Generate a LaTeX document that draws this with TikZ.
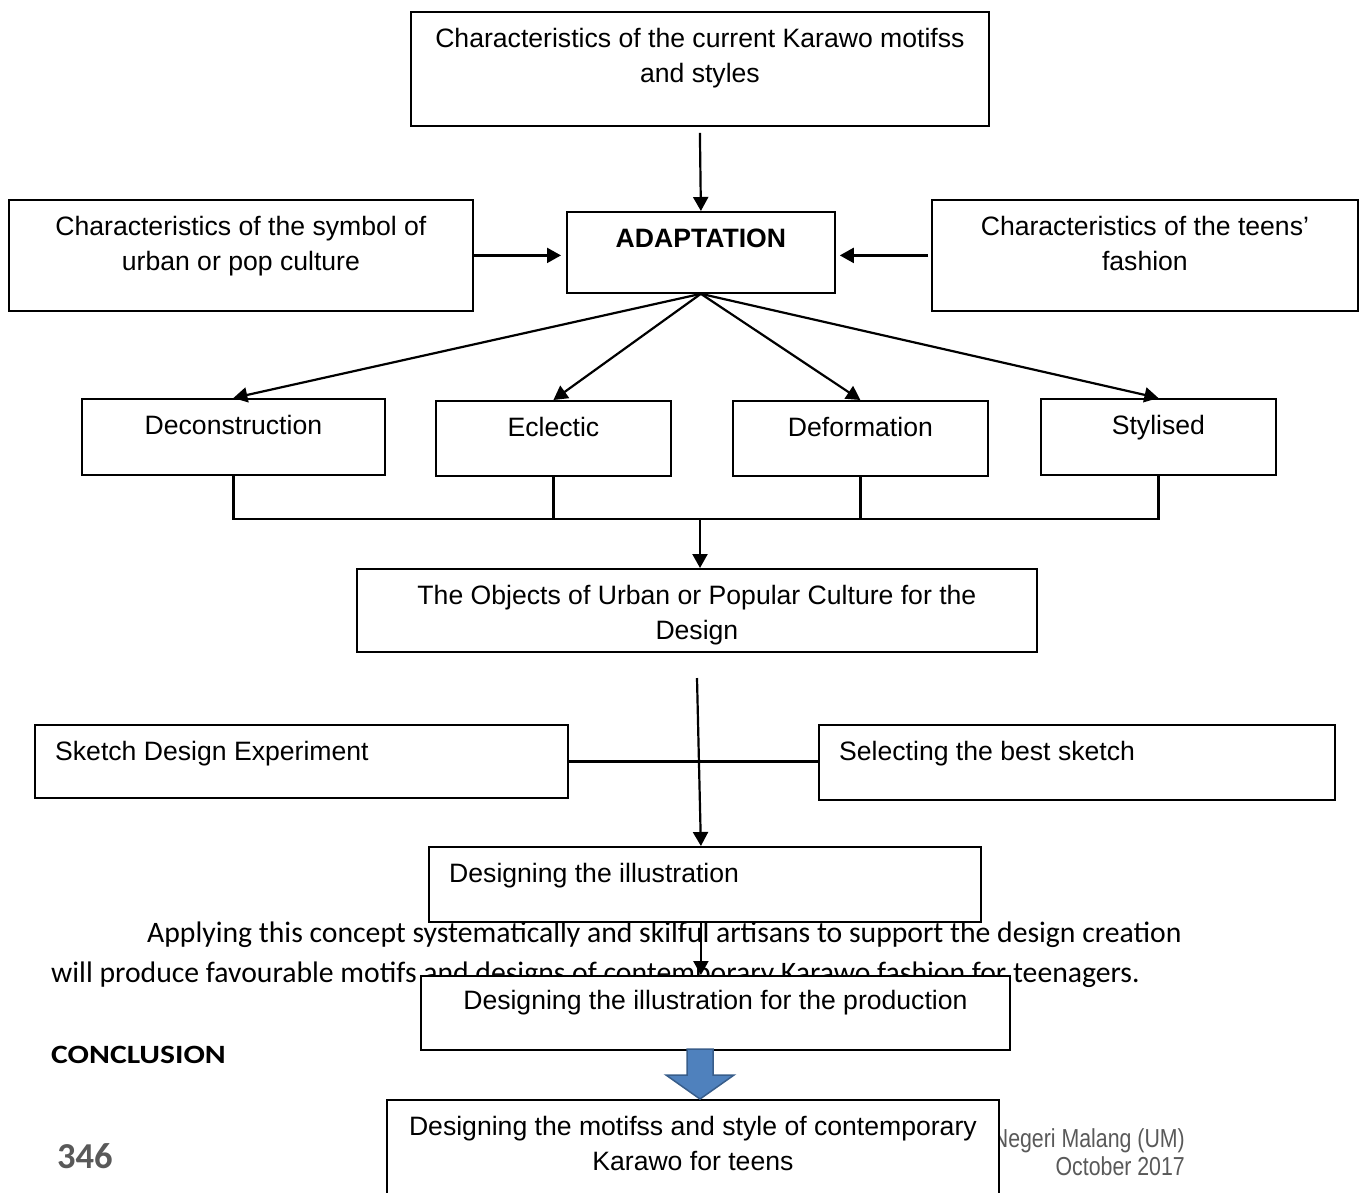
\documentclass[tikz,border=0pt]{standalone}
\usepackage{fontspec}
\setmainfont{Liberation Sans}
\newfontfamily\parafont{Carlito}
\newfontfamily\headfont[FakeStretch=1.2]{Carlito}
\newfontfamily\narrowfont[FakeStretch=0.82]{Liberation Sans}
\usetikzlibrary{positioning,arrows.meta}

\definecolor{arrowblue}{HTML}{4F81BD}
\definecolor{arrowedge}{HTML}{385D8A}
\definecolor{pagegrey}{HTML}{595959}
\newcommand{\boxfont}{\fontsize{26.6}{35}\selectfont}

\tikzset{
  blk/.style={draw, line width=1.8pt, fill=white, anchor=north west, inner sep=0pt},
  blktext/.style={anchor=north, yshift=-17.5pt, inner sep=0pt, align=center, font=\boxfont},
  blktextl/.style={anchor=north west, xshift=21pt, yshift=-17.5pt, inner sep=0pt, font=\boxfont},
  link/.style={line width=2.2pt},
  flow/.style={line width=2.2pt, -{Triangle[length=14pt,width=15pt]}},
  bigarrow/.style={fill=arrowblue, draw=arrowedge, line width=1.5pt, line join=miter},
}

\begin{document}
\begin{tikzpicture}[x=1pt, y=-1pt]
\useasboundingbox (0,0) rectangle (1365,1192);

% page text behind the chart
\node[anchor=base west, inner sep=0pt, font=\parafont\fontsize{29.7}{34}\selectfont] (line1) at (147,942)
  {Applying this concept systematically and skilful artisans to support the design creation};
\node[anchor=base west, inner sep=0pt, font=\parafont\fontsize{29.7}{34}\selectfont] (line2) at (51,982)
  {will produce favourable motifs and designs of contemporary Karawo fashion for teenagers.};
\node[anchor=base west, inner sep=0pt, font=\headfont\bfseries\fontsize{26.4}{30}\selectfont] (concl) at (51,1063) {CONCLUSION};
\node[anchor=base west, inner sep=0pt, text=pagegrey, font=\parafont\bfseries\fontsize{36.5}{40}\selectfont] (pageno) at (57,1168) {346};
\node[anchor=base east, inner sep=0pt, text=pagegrey, font=\narrowfont\fontsize{26}{30}\selectfont] (univ) at (1185,1147) {Negeri Malang (UM)};
\node[anchor=base east, inner sep=0pt, text=pagegrey, font=\narrowfont\fontsize{26}{30}\selectfont] (month) at (1185,1175) {October 2017};

% boxes
\node[blk, minimum width=578pt, minimum height=114pt, label={[blktext]north:Characteristics of the current Karawo motifss\\and styles}] (cur) at (410,11) {};
\node[blk, minimum width=268pt, minimum height=81pt, label={[blktext, font=\boxfont\bfseries]north:ADAPTATION}] (adapt) at (566,211) {};
\node[blk, minimum width=464pt, minimum height=111pt, label={[blktext]north:Characteristics of the symbol of\\urban or pop culture}] (sym) at (8,199) {};
\node[blk, minimum width=426pt, minimum height=111pt, label={[blktext]north:Characteristics of the teens’\\fashion}] (teen) at (931,199) {};

\node[blk, minimum width=303pt, minimum height=76pt, label={[blktext]north:Deconstruction}] (decon) at (81,398) {};
\node[blk, minimum width=235pt, minimum height=75pt, label={[blktext]north:Eclectic}] (eclec) at (435,400) {};
\node[blk, minimum width=255pt, minimum height=75pt, label={[blktext]north:Deformation}] (deform) at (732,400) {};
\node[blk, minimum width=235pt, minimum height=76pt, label={[blktext]north:Stylised}] (styl) at (1040,398) {};

\node[blk, minimum width=680pt, minimum height=83pt, label={[blktext]north:The Objects of Urban or Popular Culture for the\\Design}] (obj) at (356,568) {};

\node[blk, minimum width=533pt, minimum height=73pt, label={[blktextl]north west:Sketch Design Experiment}] (sketch) at (34,724) {};
\node[blk, minimum width=516pt, minimum height=75pt, label={[blktextl]north west:Selecting the best sketch}] (select) at (818,724) {};
\node[blk, minimum width=552pt, minimum height=75pt, label={[blktextl]north west:Designing the illustration}] (ill) at (428,846) {};
\node[blk, minimum width=589pt, minimum height=74pt, label={[blktext, yshift=2pt]north:Designing the illustration for the production}] (prod) at (420,975) {};
\node[blk, minimum width=612pt, minimum height=150pt, label={[blktext]north:Designing the motifss and style of contemporary\\Karawo for teens}] (final) at (386,1099) {};

% connectors
\coordinate (bus) at (700,519);
\coordinate (drop) at (697,678);

\draw[flow] ([yshift=-6pt]cur.south) -- (adapt.north);
\draw[flow] (sym.east) -- ([xshift=-5pt]adapt.west |- sym.east);
\draw[flow] ([xshift=-3pt]teen.west) -- ([xshift=4pt]adapt.east |- teen.west);

\foreach \n in {decon,eclec,deform,styl}
  \draw[flow] (adapt.south) -- (\n.north);

\draw[link] (decon.south) -- (decon.south |- bus) -- (styl.south |- bus) -- (styl.south);
\draw[link] (eclec.south) -- (eclec.south |- bus);
\draw[link] (deform.south) -- (deform.south |- bus);
\draw[flow] (bus) -- (bus |- obj.north);

\draw[link] (sketch.east) -- (sketch.east -| select.west);
\draw[flow] (drop) -- ([xshift=-4pt]ill.north);
\draw[flow] ([xshift=-4pt]ill.south) -- ([xshift=-4pt]ill.south |- prod.north);

% block arrow down to the result
\draw[bigarrow] (687,1049) -- (713,1049) -- (713,1075) -- (734,1075) -- (700,1099)
  -- (666,1075) -- (687,1075) -- cycle;
\end{tikzpicture}
\end{document}
